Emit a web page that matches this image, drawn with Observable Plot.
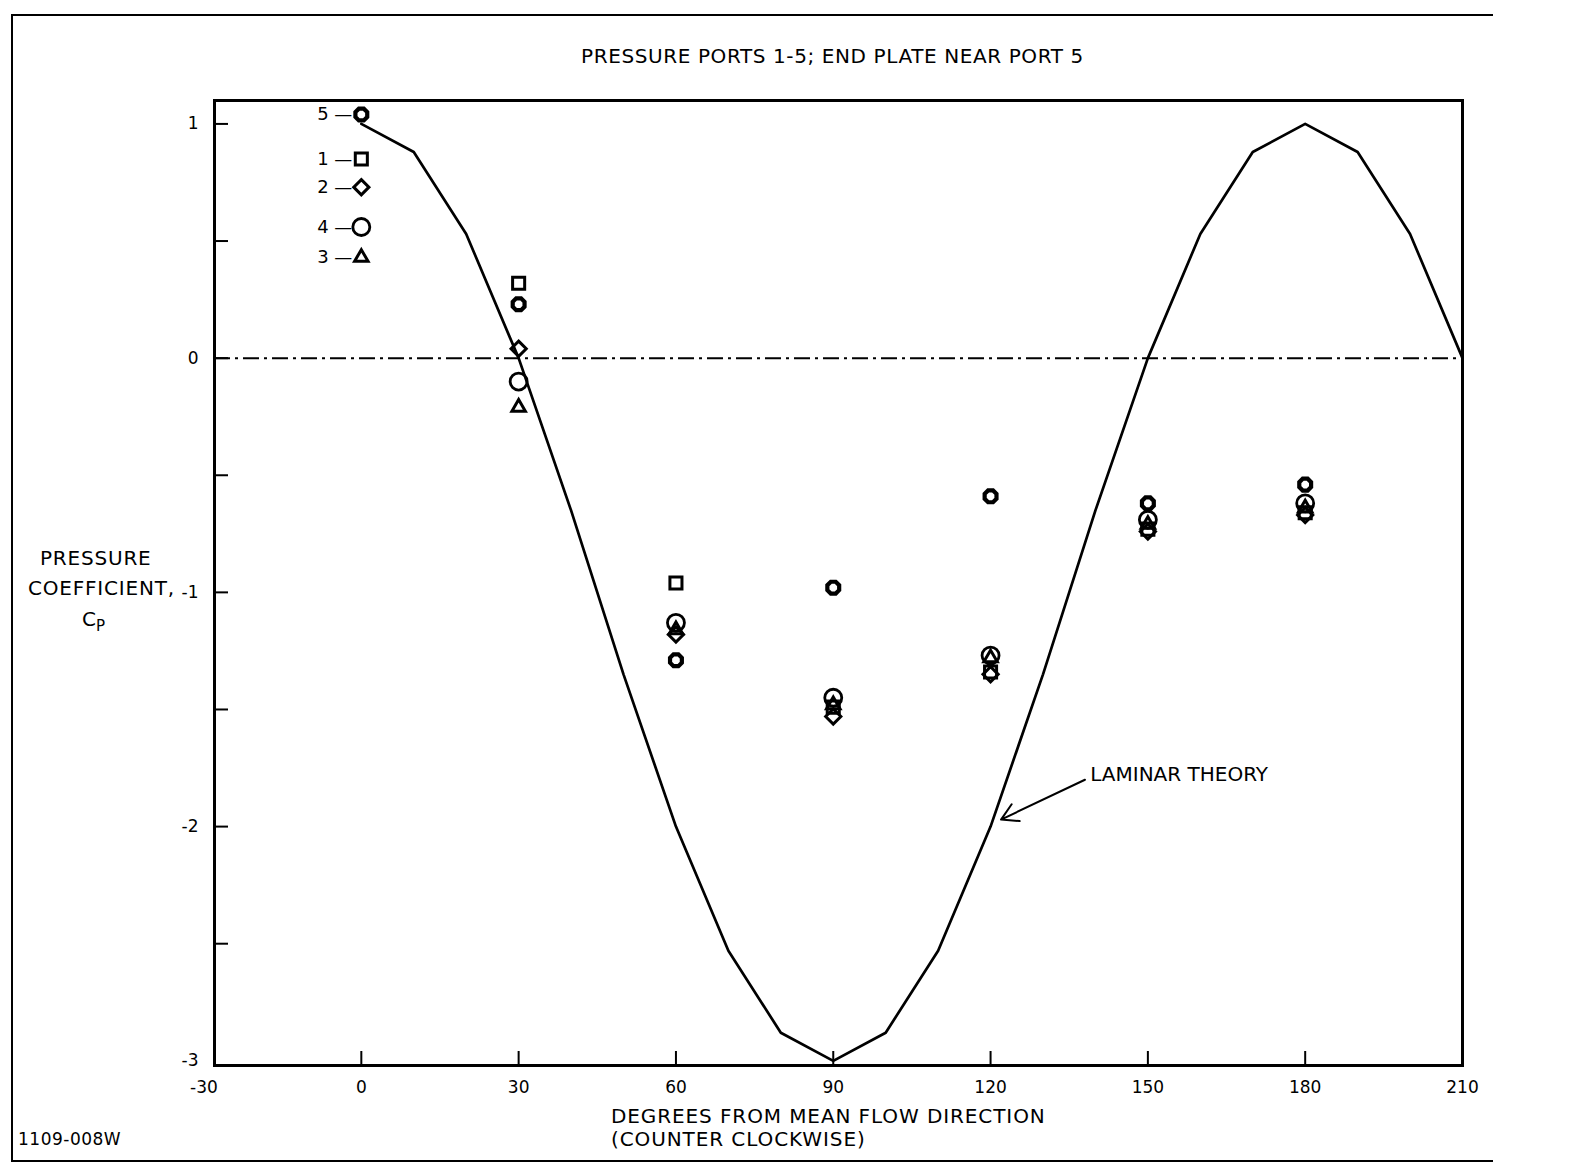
<!DOCTYPE html>
<html>
<head>
<meta charset="utf-8">
<script src="https://cdn.jsdelivr.net/npm/d3@7"></script>
<script src="https://cdn.jsdelivr.net/npm/@observablehq/plot@0.6"></script>
<style>
  body { margin: 0; background: white; }
  #page { position: relative; width: 1575px; height: 1167px; background: white; font-family: "DejaVu Sans", sans-serif; color: black; overflow: hidden; }
  .t { position: absolute; white-space: nowrap; font-size: 20px; line-height: 1; }
  #border { position: absolute; left: 11px; top: 14px; width: 1480px; height: 1144px; border-left: 2px solid black; border-top: 2px solid black; border-bottom: 2px solid black; }
  #chart { position: absolute; left: 0; top: 80px; }
</style>
</head>
<body>
<div id="page">
  <div id="border"></div>
  <div class="t" style="left:581px; top:46px; letter-spacing:0.6px;">PRESSURE PORTS 1-5; END PLATE NEAR PORT 5</div>
  <div class="t" style="left:40px; top:548px; letter-spacing:0.8px;">PRESSURE</div>
  <div class="t" style="left:28px; top:578px; letter-spacing:0.8px;">COEFFICIENT,</div>
  <div class="t" style="left:82px; top:609px;">C<sub style="font-size:15px;vertical-align:-5px;">P</sub></div>
  <div class="t" style="left:611px; top:1106px; letter-spacing:0.9px;">DEGREES FROM MEAN FLOW DIRECTION</div>
  <div class="t" style="left:611px; top:1129px; letter-spacing:0.9px;">(COUNTER CLOCKWISE)</div>
  <div class="t" style="left:18px; top:1131px; font-size:17px; letter-spacing:0.5px;">1109-008W</div>
  <div id="chart"></div>
</div>
<script>
// ---- data ----
const angles = [0, 30, 60, 90, 120, 150, 180];
const ports = ["1", "2", "3", "4", "5"];
const cpPort1 = [0.85, 0.32, -0.96, -1.49, -1.34, -0.73, -0.66];
const cpPort2 = [0.73, 0.04, -1.18, -1.53, -1.35, -0.74, -0.67];
const cpPort3 = [0.43, -0.21, -1.16, -1.48, -1.28, -0.71, -0.64];
const cpPort4 = [0.56, -0.10, -1.13, -1.45, -1.27, -0.69, -0.62];
const cpPort5 = [1.04, 0.23, -1.29, -0.98, -0.59, -0.62, -0.54];

const theoryAngles = [0, 10, 20, 30, 40, 50, 60, 70, 80, 90, 100, 110, 120, 130, 140, 150, 160, 170, 180, 190, 200, 210];
const theoryCp = [1, 0.88, 0.53, 0, -0.65, -1.35, -2, -2.53, -2.88, -3, -2.88, -2.53, -2, -1.35, -0.65, 0, 0.53, 0.88, 1, 0.88, 0.53, 0];

const xLabelTicks = [-30, 0, 30, 60, 90, 120, 150, 180, 210];
const xTickMarks = [0, 30, 60, 90, 120, 150, 180];
const yLabelTicks = [1, 0, -1, -2, -3];
const yTickMarks = [1, 0.5, 0, -0.5, -1, -1.5, -2, -2.5];

const annotation = {text: "LAMINAR THEORY", x: 139, y: -1.78, x1: 138, y1: -1.80, x2: 122, y2: -1.97};

// ---- build tables ----
const portValues = {"1": cpPort1, "2": cpPort2, "3": cpPort3, "4": cpPort4, "5": cpPort5};
const points = ports.flatMap(p => angles.map((a, i) => ({port: p, angle: a, cp: portValues[p][i]})));
const theory = theoryAngles.map((a, i) => ({angle: a, cp: theoryCp[i]}));
const zeroLabels = ports.map(p => ({port: p, angle: angles[0], cp: portValues[p][0]}));

// ---- symbols ----
const diamondSym = {draw(ctx, size) { const r = Math.sqrt(size) * 0.63; ctx.moveTo(0, -r); ctx.lineTo(r, 0); ctx.lineTo(0, r); ctx.lineTo(-r, 0); ctx.closePath(); }};
const gearSym = {draw(ctx, size) { const r = Math.sqrt(size / Math.PI); for (let i = 0; i < 8; i++) { const t = i * Math.PI / 4 + Math.PI / 8; const px = r * Math.cos(t), py = r * Math.sin(t); if (i === 0) ctx.moveTo(px, py); else ctx.lineTo(px, py); } ctx.closePath(); }};
const symbolStyle = {
  "1": {symbol: d3.symbolSquare, r: 6.8, sw: 3},
  "2": {symbol: diamondSym, r: 6.8, sw: 3},
  "3": {symbol: d3.symbolTriangle, r: 5, sw: 3},
  "4": {symbol: d3.symbolCircle, r: 8.5, sw: 2.8},
  "5": {symbol: gearSym, r: 6.4, sw: 4.2}
};

const dotMarks = ports.map(p => Plot.dot(points.filter(d => d.port === p), {
  x: "angle", y: "cp", symbol: symbolStyle[p].symbol, r: symbolStyle[p].r,
  stroke: "black", strokeWidth: symbolStyle[p].sw, fill: "none"
}));

const chart = Plot.plot({
  width: 1575,
  height: 1020,
  marginLeft: 214,
  marginRight: 113,
  marginTop: 20,
  marginBottom: 35,
  x: {domain: [-28, 210]},
  y: {domain: [-3.02, 1.1]},
  style: {fontFamily: "'DejaVu Sans', sans-serif", fontSize: "17px", color: "black", background: "transparent"},
  marks: [
    Plot.ruleY([0], {stroke: "black", strokeWidth: 2, strokeDasharray: "16,5,3,5"}),
    Plot.line(theory, {x: "angle", y: "cp", stroke: "black", strokeWidth: 2.7}),
    ...dotMarks,
    Plot.text(zeroLabels, {x: "angle", y: "cp", text: d => d.port + " \u2014", textAnchor: "end", dx: -9, fontSize: 18}),
    Plot.text([annotation], {x: "x", y: "y", text: "text", textAnchor: "start", fontSize: 20, letterSpacing: "1.2px"}),
    Plot.arrow([annotation], {x1: "x1", y1: "y1", x2: "x2", y2: "y2", stroke: "black", strokeWidth: 2, headLength: 14}),
    Plot.frame({stroke: "black", strokeWidth: 3}),
    Plot.axisY({ticks: yLabelTicks, tickSize: 0, tickPadding: 16, tickFormat: d => String(d), label: null, fontSize: 17}),
    Plot.axisY({ticks: yTickMarks, tickSize: -14, tickFormat: () => "", label: null, strokeWidth: 2}),
    Plot.axisX({ticks: xTickMarks, tickSize: -14, tickFormat: () => "", label: null, strokeWidth: 2}),
    Plot.text(xLabelTicks, {x: d => d, frameAnchor: "bottom", dy: 27, text: d => String(d), fontSize: 17})
  ]
});
document.getElementById("chart").appendChild(chart);
</script>
</body>
</html>
